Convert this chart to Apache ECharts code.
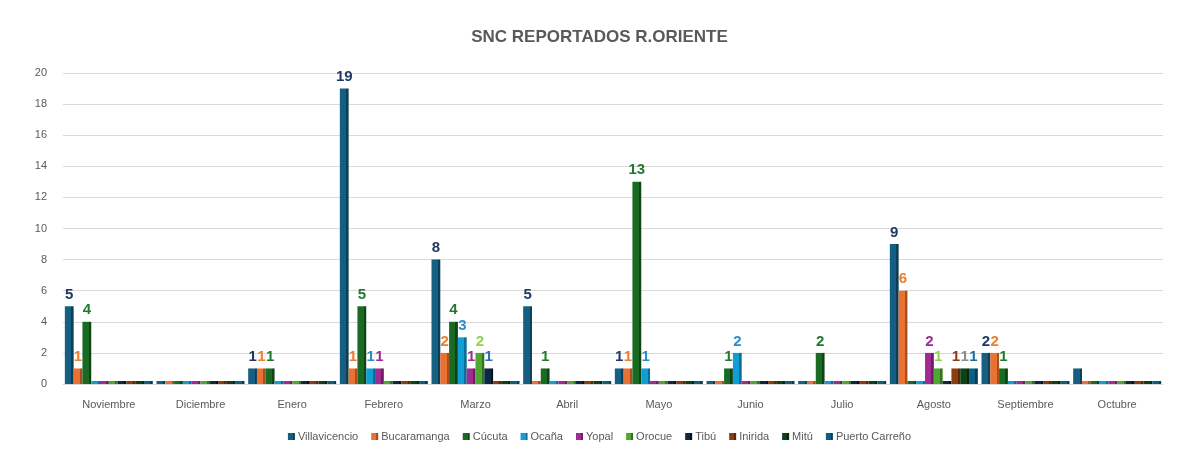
<!DOCTYPE html>
<html>
<head>
<meta charset="utf-8">
<script src="https://cdn.jsdelivr.net/npm/echarts@6/dist/echarts.min.js"></script>
<style>
  html, body { margin: 0; padding: 0; background: #fff; }
  #chart { width: 1199px; height: 456px; }
</style>
</head>
<body>
<div id="chart"></div>
<script>
// meses
const months = ['Noviembre', 'Diciembre', 'Enero', 'Febrero', 'Marzo', 'Abril', 'Mayo', 'Junio', 'Julio', 'Agosto', 'Septiembre', 'Octubre']

// valores por sede
const villavicencio = [5, 0, 1, 19, 8, 5, 1, 0, 0, 9, 2, 1]
const bucaramanga   = [1, 0, 1, 1, 2, 0, 1, 0, 0, 6, 2, 0]
const cucuta        = [4, 0, 1, 5, 4, 1, 13, 1, 2, 0, 1, 0]
const ocana         = [0, 0, 0, 1, 3, 0, 1, 2, 0, 0, 0, 0]
const yopal         = [0, 0, 0, 1, 1, 0, 0, 0, 0, 2, 0, 0]
const orocue        = [0, 0, 0, 0, 2, 0, 0, 0, 0, 1, 0, 0]
const tibu          = [0, 0, 0, 0, 1, 0, 0, 0, 0, 0, 0, 0]
const inirida       = [0, 0, 0, 0, 0, 0, 0, 0, 0, 1, 0, 0]
const mitu          = [0, 0, 0, 0, 0, 0, 0, 0, 0, 1, 0, 0]
const puertoCarreno = [0, 0, 0, 0, 0, 0, 0, 0, 0, 1, 0, 0]

const seriesNames = ['Villavicencio', 'Bucaramanga', 'Cúcuta', 'Ocaña', 'Yopal', 'Orocue', 'Tibú', 'Inirida', 'Mitú', 'Puerto Carreño']
const seriesData = [villavicencio, bucaramanga, cucuta, ocana, yopal, orocue, tibu, inirida, mitu, puertoCarreno]

// colores barra / cara lateral / etiqueta
const barColors  = ['#156082', '#E97132', '#196B24', '#0F9ED5', '#A02B93', '#4EA72E', '#0E2841', '#8C3D0F', '#0F4016', '#0C5F80']
const sideColors = ['#0D3E55', '#A84F20', '#0F4416', '#0A6E96', '#6E1D65', '#33731E', '#06121F', '#5C2709', '#07260C', '#073E55']
const labelColors = ['#1F3864', '#ED7D31', '#217A2E', '#2A8FC9', '#A02B93', '#92D050', '#2F6EBA', '#8C3D0F', '#8C8C8C', '#1F6F99']

const myChart = echarts.init(document.querySelector('#chart'))

const series = seriesData.map((arr, i) => ({
  name: seriesNames[i],
  type: 'bar',
  barGap: '0%',
  barCategoryGap: '4%',
  barMinHeight: 3,
  itemStyle: {
    color: {
      type: 'linear', x: 0, y: 0, x2: 1, y2: 0,
      colorStops: [
        { offset: 0, color: barColors[i] },
        { offset: 0.72, color: barColors[i] },
        { offset: 0.72, color: sideColors[i] },
        { offset: 1, color: sideColors[i] }
      ]
    }
  },
  label: {
    show: true,
    position: 'top',
    distance: 4,
    color: labelColors[i],
    fontWeight: 'bold',
    fontSize: 15,
    fontFamily: 'Liberation Sans, Arial, sans-serif',
    // los ceros y octubre no llevan etiqueta
    formatter: p => (p.value === 0 || p.name === 'Octubre') ? '' : p.value
  },
  data: arr
}))

const option = {
  animation: false,
  title: {
    text: 'SNC REPORTADOS R.ORIENTE',
    left: 'center',
    top: 24,
    textStyle: {
      fontSize: 17,
      fontWeight: 'bold',
      color: '#595959',
      fontFamily: 'Liberation Sans, Arial, sans-serif'
    }
  },
  legend: {
    bottom: 9,
    left: 'center',
    icon: 'rect',
    itemWidth: 7,
    itemHeight: 7,
    itemGap: 13,
    textStyle: { fontSize: 11, color: '#595959', padding: [0, 0, 0, -2] },
    data: seriesNames
  },
  grid: {
    left: 63,
    right: 36,
    top: 73,
    bottom: 72
  },
  xAxis: {
    type: 'category',
    data: months,
    axisLine: { show: true, lineStyle: { color: '#d9d9d9' } },
    axisTick: { show: false },
    axisLabel: { color: '#595959', fontSize: 11, margin: 15 }
  },
  yAxis: {
    type: 'value',
    min: 0,
    max: 20,
    interval: 2,
    axisLine: { show: false },
    axisTick: { show: false },
    axisLabel: { color: '#595959', fontSize: 11, margin: 16 },
    splitLine: { lineStyle: { color: '#d9d9d9', width: 1 } }
  },
  series
}

myChart.setOption(option)
</script>
</body>
</html>
